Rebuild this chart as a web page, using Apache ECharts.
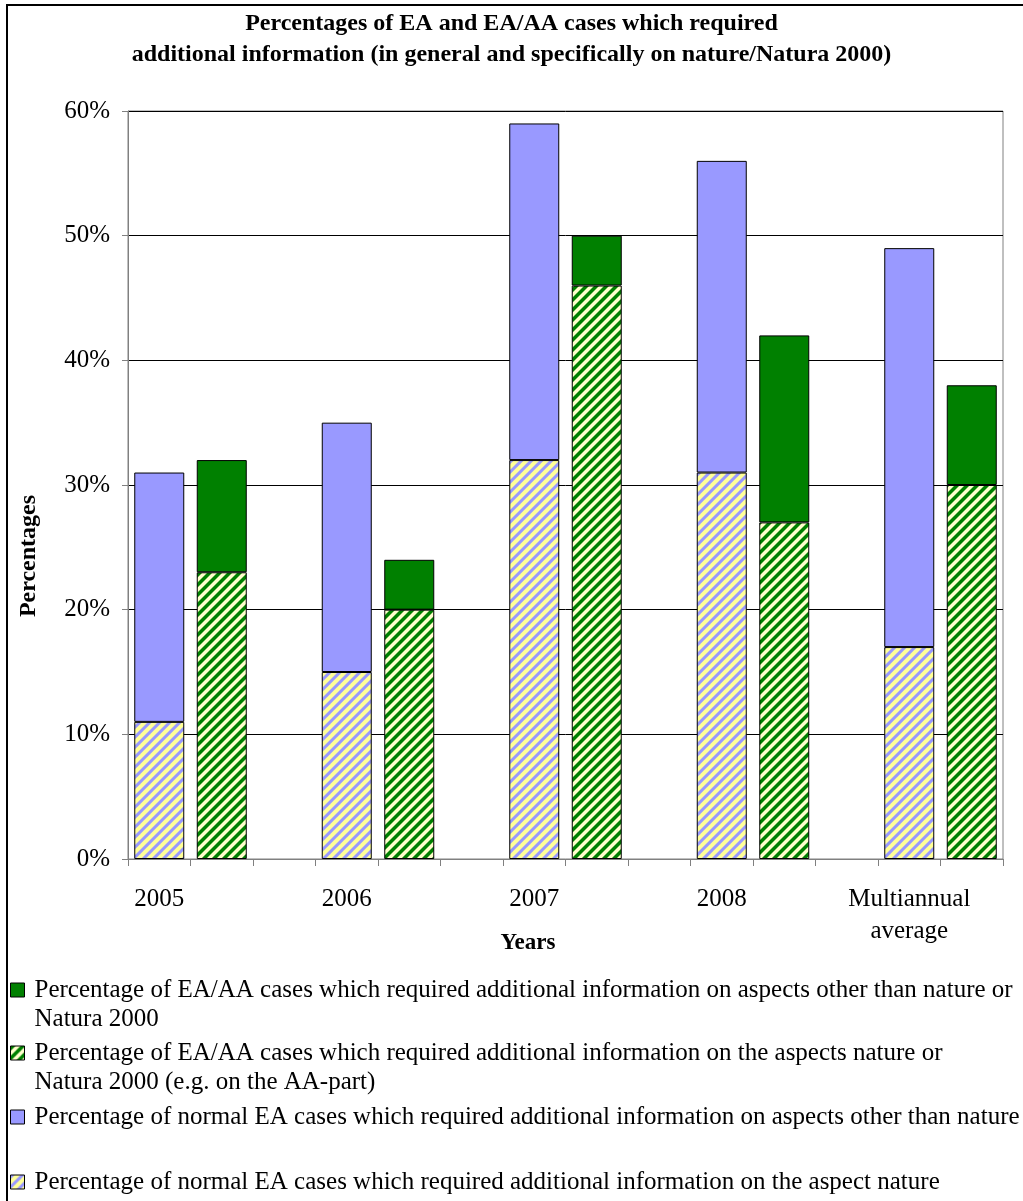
<!DOCTYPE html>
<html>
<head>
<meta charset="utf-8">
<script src="https://cdn.jsdelivr.net/npm/echarts@6/dist/echarts.min.js"></script>
<style>
html,body{margin:0;padding:0;background:#fff;}
#chart{width:1023px;height:1201px;}
</style>
</head>
<body>
<div id="chart"></div>
<script>
// ---- data ----
var years = ['2005', '2006', '2007', '2008', 'Multiannual\naverage'];
// normal EA cases
var eaNature = [11, 15, 32, 31, 17];   // hatched yellow/blue (bottom)
var eaOther  = [20, 20, 27, 25, 32];   // solid blue (top), totals 31,35,59,56,49
// EA/AA cases
var aaNature = [23, 20, 46, 27, 30];   // hatched green (bottom)
var aaOther  = [9, 4, 4, 15, 8];       // solid dark green (top), totals 32,24,50,42,38
var yTicks = [0, 10, 20, 30, 40, 50, 60];

var nameAaOther  = 'Percentage of EA/AA cases which required additional information on aspects other than nature or\nNatura 2000';
var nameAaNature = 'Percentage of EA/AA cases which required additional information on the aspects nature or\nNatura 2000 (e.g. on the AA-part)';
var nameEaOther  = 'Percentage of normal EA cases which required additional information on aspects other than nature\n ';
var nameEaNature = 'Percentage of normal EA cases which required additional information on the aspect nature\n ';
var legendOrder = [nameAaOther, nameAaNature, nameEaOther, nameEaNature];

// ---- category layout: [EA bar, EA/AA bar, gap] per year ----
var cats = [], catLabel = {};
var dEaN = [], dEaO = [], dAaN = [], dAaO = [];
years.forEach(function (y, i) {
  cats.push('a' + i); catLabel['a' + i] = y;
  dEaN.push(eaNature[i]); dEaO.push(eaOther[i]); dAaN.push(null); dAaO.push(null);
  cats.push('b' + i); catLabel['b' + i] = '';
  dEaN.push(null); dEaO.push(null); dAaN.push(aaNature[i]); dAaO.push(aaOther[i]);
  if (i < years.length - 1) {
    cats.push('g' + i); catLabel['g' + i] = '';
    dEaN.push(null); dEaO.push(null); dAaN.push(null); dAaO.push(null);
  }
});

function stripes(bg, fg, w) {
  var P = 10;
  var c = document.createElement('canvas');
  c.width = P; c.height = P;
  var g = c.getContext('2d');
  g.fillStyle = bg; g.fillRect(0, 0, P, P);
  g.fillStyle = fg;
  [-P, 0, P].forEach(function (k) {
    g.beginPath();
    g.moveTo(k, P); g.lineTo(k + w, P); g.lineTo(k + w + P, 0); g.lineTo(k + P, 0);
    g.closePath(); g.fill();
  });
  return { image: c, repeat: 'repeat' };
}
var patEA = stripes('#ffff99', '#9999ff', 4.2);
var patAA = stripes('#ffffcc', '#008000', 5.0);

var FONT = '"Liberation Serif", "Times New Roman", serif';
var chart = echarts.init(document.getElementById('chart'), null, { renderer: 'canvas' });

var barStyle = function (color) {
  return { color: color, borderColor: '#000', borderWidth: 1 };
};

var legendCenters = [990, 1053, 1117, 1182];
var LH = 29;
var legends = legendOrder.map(function (n, i) {
  return {
    orient: 'vertical', left: 10, top: legendCenters[i] - 1.5 * LH, padding: 0,
    icon: 'rect', itemWidth: 14, itemHeight: 14, itemGap: 0,
    itemStyle: { borderColor: '#000', borderWidth: 1 },
    selectedMode: false,
    data: [n],
    formatter: function (t) { return ' \n' + t; },
    textStyle: { fontFamily: FONT, fontSize: 25, lineHeight: LH, color: '#000', padding: [0, 0, 0, 5] }
  };
});

chart.setOption({
  backgroundColor: '#fff',
  animation: false,
  title: {
    text: 'Percentages of EA and EA/AA cases which required\nadditional information (in general and specifically on nature/Natura 2000)',
    left: 'center', top: 8, padding: 0,
    textStyle: { fontFamily: FONT, fontSize: 24, fontWeight: 'bold', lineHeight: 31, color: '#000' }
  },
  grid: { left: 128, right: 20, top: 111, bottom: 342, show: true, borderColor: '#808080', borderWidth: 1, backgroundColor: '#fff' },
  legend: legends,
  xAxis: {
    type: 'category', data: cats,
    axisLine: { lineStyle: { color: '#808080' } },
    axisTick: { show: true, interval: 0, length: 7, lineStyle: { color: '#808080' } },
    axisLabel: {
      interval: 0, margin: 24, fontFamily: FONT, fontSize: 25, lineHeight: 32, color: '#000',
      formatter: function (v) { return catLabel[v]; }
    }
  },
  yAxis: {
    type: 'value', min: yTicks[0], max: yTicks[yTicks.length - 1], interval: 10,
    axisLine: { show: true, lineStyle: { color: '#808080' } },
    axisTick: { show: true, length: 6, lineStyle: { color: '#808080' } },
    splitLine: { lineStyle: { color: '#000', width: 1 } },
    axisLabel: { margin: 18, fontFamily: FONT, fontSize: 25, color: '#000', formatter: '{value}%' }
  },
  series: [
    { name: nameEaNature, type: 'bar', stack: 'all', barWidth: '80%', data: dEaN, itemStyle: barStyle(patEA) },
    { name: nameEaOther, type: 'bar', stack: 'all', barWidth: '80%', data: dEaO, itemStyle: barStyle('#9999ff') },
    { name: nameAaNature, type: 'bar', stack: 'all', barWidth: '80%', data: dAaN, itemStyle: barStyle(patAA) },
    { name: nameAaOther, type: 'bar', stack: 'all', barWidth: '80%', data: dAaO, itemStyle: barStyle('#008000') }
  ],
  graphic: [
    { type: 'rect', shape: { x: 7, y: 5, width: 1200, height: 1400 }, style: { fill: 'none', stroke: '#000', lineWidth: 2 }, silent: true, z: 100 },
    { type: 'text', x: 29, y: 556, rotation: Math.PI / 2,
      style: { text: 'Percentages', fontFamily: FONT, fontSize: 24, fontWeight: 'bold', fill: '#000', align: 'center', verticalAlign: 'middle' } },
    { type: 'text', x: 528, y: 943,
      style: { text: 'Years', fontFamily: FONT, fontSize: 23, fontWeight: 'bold', fill: '#000', align: 'center', verticalAlign: 'middle' } }
  ]
});
</script>
</body>
</html>
